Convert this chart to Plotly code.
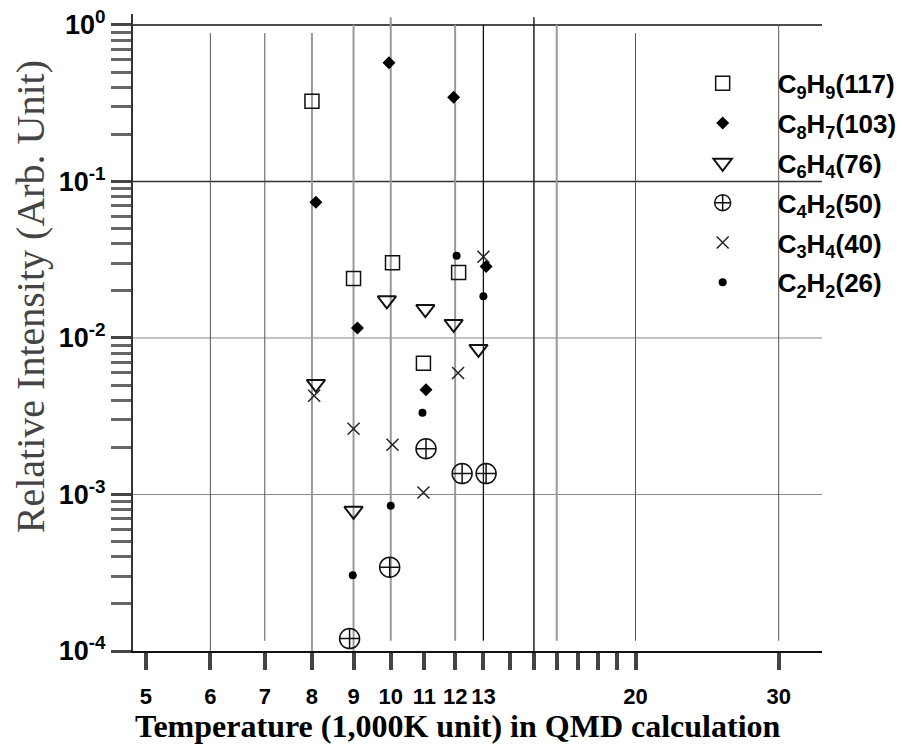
import plotly.graph_objects as go

# ---- data ----
names = ["C<sub>9</sub>H<sub>9</sub>(117)", "C<sub>8</sub>H<sub>7</sub>(103)",
         "C<sub>6</sub>H<sub>4</sub>(76)", "C<sub>4</sub>H<sub>2</sub>(50)",
         "C<sub>3</sub>H<sub>4</sub>(40)", "C<sub>2</sub>H<sub>2</sub>(26)"]

c9h9_T = [8.0, 9.0, 10.05, 10.97, 12.12]
c9h9_I = [0.326, 0.024, 0.0303, 0.0069, 0.0262]

c8h7_T = [8.09, 9.1, 9.95, 11.05, 11.95, 13.1]
c8h7_I = [0.0736, 0.0116, 0.574, 0.00467, 0.345, 0.0286]

c6h4_T = [8.09, 9.0, 9.89, 11.03, 11.95, 12.82]
c6h4_I = [0.00509, 0.000786, 0.0174, 0.0153, 0.0123, 0.00851]

c4h2_T = [8.9, 9.97, 11.05, 12.24, 13.1]
c4h2_I = [0.00012, 0.000343, 0.00196, 0.00136, 0.00136]

c3h4_T = [8.05, 9.0, 10.05, 10.97, 12.1, 13.0]
c3h4_I = [0.00428, 0.00263, 0.00208, 0.00103, 0.00598, 0.033]

c2h2_T = [8.98, 10.0, 10.94, 12.05, 13.0]
c2h2_I = [0.000305, 0.000847, 0.00333, 0.0335, 0.01845]

x_tickvals = [5, 6, 7, 8, 9, 10, 11, 12, 13, 14, 15, 16, 17, 18, 19, 20, 30]
x_ticktext = ["5", "6", "7", "8", "9", "10", "11", "12", "13", "", "", "", "", "", "", "20", "30"]
y_tickvals = [1e-4, 1e-3, 1e-2, 1e-1, 1]
y_ticktext = ["10<sup>-4</sup>", "10<sup>-3</sup>", "10<sup>-2</sup>", "10<sup>-1</sup>", "10<sup>0</sup>"]

series = [
    (c9h9_T, c9h9_I, dict(symbol="square-open", size=14, color="#111", line=dict(width=1.5, color="#111"))),
    (c8h7_T, c8h7_I, dict(symbol="diamond", size=10, color="#000", line=dict(width=0))),
    (c6h4_T, c6h4_I, dict(symbol="triangle-down-open", size=16, color="#111", line=dict(width=2, color="#111"))),
    (c4h2_T, c4h2_I, dict(symbol="circle-cross-open", size=20, color="#111", line=dict(width=1.5, color="#111"))),
    (c3h4_T, c3h4_I, dict(symbol="x-thin-open", size=12, color="#222", line=dict(width=1.5, color="#222"))),
    (c2h2_T, c2h2_I, dict(symbol="circle", size=8, color="#000", line=dict(width=0))),
]

fig = go.Figure()
for i, (xs, ys, mk) in enumerate(series):
    fig.add_trace(go.Scatter(x=xs, y=ys, mode="markers", name=names[i], marker=mk,
                             legendgroup=f"g{i}"))

# ---- grid lines ----
shapes = []
hgrid = [(1, "#111", 1.5), (0.1, "#333", 1.5), (0.01, "#888", 1), (0.001, "#888", 1)]
for v, c, w in hgrid:
    shapes.append(dict(type="line", xref="paper", x0=0, x1=1, yref="y", y0=v, y1=v,
                       line=dict(color=c, width=w), layer="below"))
vgrid = [(6, "#555", 1, 0.0, 0.97), (7, "#555", 1, 0.016, 0.97), (8, "#999", 2, 0.0, 0.97),
         (9, "#999", 2, 0.0, 0.983), (10, "#999", 2, 0.016, 0.995), (12, "#999", 2, 0.016, 0.983),
         (13, "#111", 1.3, 0.016, 0.983), (15, "#222", 1.5, 0.0, 0.995), (16, "#999", 2, 0.016, 0.983),
         (20, "#555", 1, 0.016, 0.97), (30, "#555", 1, 0.016, 0.983)]
for v, c, w, a, b in vgrid:
    shapes.append(dict(type="line", xref="x", x0=v, x1=v, yref="paper", y0=a, y1=b,
                       line=dict(color=c, width=w), layer="below"))

minor_y = [m * 10.0 ** e for e in range(-4, 0) for m in range(2, 10)]

fig.update_layout(
    width=904, height=749,
    margin=dict(l=133, r=82, t=14, b=98, autoexpand=False),
    paper_bgcolor="white", plot_bgcolor="white",
    shapes=shapes,
    showlegend=True,
    legend=dict(x=0.776, y=0.928, xanchor="left", yanchor="top",
                bgcolor="rgba(0,0,0,0)", itemwidth=100, tracegroupgap=3,
                font=dict(family="Liberation Sans", size=26, color="#000", weight="bold")),
    xaxis=dict(type="log", range=[0.6830, 1.5304], showgrid=False, zeroline=False,
               automargin=False,
               tickmode="array", tickvals=x_tickvals, ticktext=x_ticktext,
               ticks="outside", ticklen=17, tickwidth=4, tickcolor="#444",
               ticklabelstandoff=8,
               showline=True, linecolor="#111", linewidth=2,
               tickfont=dict(family="Liberation Sans", size=22, color="#000", weight="bold")),
    yaxis=dict(type="log", range=[-4.0, 0.07], showgrid=False, zeroline=False,
               automargin=False,
               tickmode="array", tickvals=y_tickvals, ticktext=y_ticktext,
               ticks="outside", ticklen=20, tickwidth=3, tickcolor="#444",
               minor=dict(tickmode="array", tickvals=minor_y, ticks="outside", ticklen=20,
                          tickwidth=3, tickcolor="#666", showgrid=False),
               showline=True, linecolor="#333", linewidth=2,
               tickfont=dict(family="Liberation Sans", size=27, color="#000", weight="bold")),
    annotations=[
        dict(text="Relative Intensity (Arb. Unit)", xref="paper", yref="paper",
             x=-0.1495, y=0.557, xanchor="center", yanchor="middle", textangle=-90,
             showarrow=False, font=dict(family="Liberation Serif", size=40, color="#444")),
        dict(text="Temperature (1,000K unit) in QMD calculation", xref="paper", yref="paper",
             x=0.472, y=-0.118, xanchor="center", yanchor="middle", showarrow=False,
             font=dict(family="Liberation Serif", size=32, color="#000", weight="bold")),
    ],
)

fig.write_html("out.html")
